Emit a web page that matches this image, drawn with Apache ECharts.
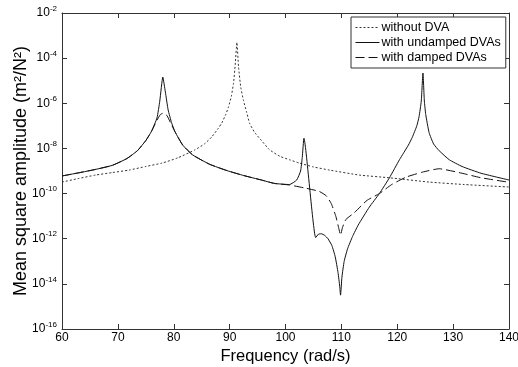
<!DOCTYPE html>
<html>
<head>
<meta charset="utf-8">
<script src="https://cdn.jsdelivr.net/npm/echarts@6/dist/echarts.min.js"></script>
<style>html,body{margin:0;padding:0;background:#fff}#c{width:518px;height:367px}</style>
</head>
<body>
<div id="c"></div>
<script>
// Frequency (rad/s) and log10 of mean square amplitude
var freqNoDVA = [60, 63, 66, 69, 72, 75, 77.9, 80.7, 83.75, 85.5, 86.8, 88.0, 88.6, 89.3, 89.8, 90.3, 90.7, 91.0, 91.3, 91.6, 92.0, 92.5, 93.0, 93.6, 94.5, 95.7, 97.1, 99, 100.7, 102.5, 105, 107.9, 113.2, 118.6, 125.7, 132, 140];
var logNoDVA  = [-9.49, -9.33, -9.18, -9.07, -8.96, -8.8, -8.65, -8.42, -8.07, -7.8, -7.49, -7.1, -6.87, -6.5, -6.16, -5.7, -5.1, -4.3, -3.3, -4.4, -5.3, -5.9, -6.35, -6.9, -7.3, -7.65, -8.05, -8.35, -8.5, -8.65, -8.82, -8.96, -9.18, -9.3, -9.49, -9.6, -9.71];

var freqUndamped = [60, 63, 66, 69, 71.6, 73.5, 75, 76, 77, 77.5, 78.04, 78.5, 79.0, 79.6, 80.2, 81.6, 83.4, 86.4, 89.5, 92.5, 95.7, 98, 100.7, 102, 102.7, 103.0, 103.3, 105.4, 105.9, 106.4, 107.0, 107.6, 108.3, 108.9, 109.4, 109.7, 109.85, 110.1, 110.5, 111.1, 112, 113, 115, 116.8, 118.6, 120.4, 122.0, 122.7, 123.5, 123.9, 124.3, 124.6, 124.85, 125.1, 125.7, 126.5, 127.5, 129.3, 131.6, 135, 140];
var logUndamped  = [-9.22, -9.08, -8.93, -8.75, -8.45, -8.1, -7.65, -7.25, -6.65, -5.9, -4.84, -5.5, -6.3, -6.85, -7.25, -7.85, -8.29, -8.7, -8.98, -9.2, -9.4, -9.55, -9.6, -9.4, -9.0, -8.4, -7.55, -11.95, -11.8, -11.78, -11.85, -12.0, -12.3, -12.8, -13.5, -14.1, -14.5, -13.7, -13.0, -12.45, -11.9, -11.4, -10.6, -10.0, -9.3, -8.5, -7.85, -7.5, -7.0, -6.6, -5.9, -4.66, -5.9, -6.5, -7.3, -7.8, -8.1, -8.5, -8.8, -9.1, -9.4];

var freqDamped = [60, 63, 66, 69, 71.6, 73.5, 75, 76, 77, 77.6, 78.2, 78.8, 79.4, 80.2, 81.6, 83.4, 86.4, 89.5, 92.5, 95.7, 98, 100.7, 103.4, 106, 107.3, 108.2, 109.0, 109.5, 109.85, 110.2, 110.8, 112.3, 114.6, 116.8, 119, 121.6, 124.5, 127.5, 131.6, 135, 140];
var logDamped  = [-9.22, -9.08, -8.93, -8.75, -8.45, -8.1, -7.65, -7.25, -6.75, -6.5, -6.43, -6.55, -6.85, -7.25, -7.85, -8.29, -8.7, -8.98, -9.2, -9.4, -9.55, -9.62, -9.75, -9.9, -10.1, -10.45, -11.0, -11.5, -11.84, -11.5, -11.15, -10.85, -10.3, -10.0, -9.6, -9.27, -9.05, -8.9, -9.1, -9.3, -9.5];

var seriesNames = ['without DVA', 'with undamped DVAs', 'with damped DVAs'];
var xTicks = [60, 70, 80, 90, 100, 110, 120, 130, 140];

function pairs(f, l) { return f.map(function (v, i) { return [v, Math.pow(10, l[i])]; }); }

var font = 'Liberation Sans, Arial, sans-serif';
var axisColor = '#333';
var chart = echarts.init(document.getElementById('c'));

function yLabel(v) {
  var e = Math.round(Math.log10(v));
  return '{b|10}{s|' + e + '}';
}

chart.setOption({
  animation: false,
  backgroundColor: '#fff',
  grid: { left: 62, right: 9, top: 13, bottom: 38, containLabel: false, outerBoundsMode: 'none' },
  legend: {
    left: 351, top: 17, orient: 'vertical',
    itemWidth: 24, itemHeight: 10, itemGap: 2,
    padding: [4, 5, 4, 4],
    borderColor: '#333', borderWidth: 1, backgroundColor: '#fff',
    itemStyle: { opacity: 0 },
    lineStyle: { width: 1 },
    textStyle: { fontFamily: font, fontSize: 12.5, color: '#000', padding: [0, 0, 0, -3] },
    data: seriesNames
  },
  xAxis: [{
    type: 'value', min: xTicks[0], max: xTicks[xTicks.length - 1], interval: 10,
    name: 'Frequency (rad/s)', nameLocation: 'middle', nameGap: 19, nameMoveOverlap: false,
    nameTextStyle: { fontFamily: font, fontSize: 16.5, color: '#000' },
    axisLine: { lineStyle: { color: axisColor, width: 1 } },
    axisTick: { inside: true, length: 5, lineStyle: { color: axisColor } },
    axisLabel: { fontFamily: font, fontSize: 12, color: '#000', margin: 3 },
    splitLine: { show: false }
  }, {
    type: 'value', position: 'top', min: xTicks[0], max: xTicks[xTicks.length - 1], interval: 10,
    axisLine: { show: true, lineStyle: { color: axisColor, width: 1 } },
    axisTick: { inside: true, length: 5, lineStyle: { color: axisColor } },
    axisLabel: { show: false }, splitLine: { show: false }
  }],
  yAxis: [{
    type: 'log', logBase: 10, min: 1e-16, max: 1e-2, interval: 2,
    name: 'Mean square amplitude (m²/N²)', nameLocation: 'middle', nameGap: 32, nameMoveOverlap: false,
    nameTextStyle: { fontFamily: font, fontSize: 18, color: '#000' },
    axisLine: { show: true, lineStyle: { color: axisColor, width: 1 } },
    axisTick: { inside: true, length: 5, lineStyle: { color: axisColor } },
    axisLabel: {
      margin: 5, formatter: yLabel,
      rich: {
        b: { fontFamily: font, fontSize: 12, color: '#000' },
        s: { fontFamily: font, fontSize: 8, color: '#000', padding: [0, 0, 9, 0] }
      }
    },
    splitLine: { show: false }
  }, {
    type: 'log', logBase: 10, min: 1e-16, max: 1e-2, interval: 2, position: 'right',
    axisLine: { show: true, lineStyle: { color: axisColor, width: 1 } },
    axisTick: { inside: true, length: 5, lineStyle: { color: axisColor } },
    axisLabel: { show: false }, splitLine: { show: false }
  }],
  series: [{
    name: seriesNames[0], type: 'line', symbol: 'none', smooth: 0.15, data: pairs(freqNoDVA, logNoDVA),
    lineStyle: { color: '#333', width: 1, type: [2, 2] }, itemStyle: { color: '#333' }
  }, {
    name: seriesNames[1], type: 'line', symbol: 'none', smooth: 0.15, data: pairs(freqUndamped, logUndamped),
    lineStyle: { color: '#111', width: 1, type: 'solid' }, itemStyle: { color: '#111' }
  }, {
    name: seriesNames[2], type: 'line', symbol: 'none', smooth: 0.15, data: pairs(freqDamped, logDamped),
    lineStyle: { color: '#111', width: 1, type: [9, 4] }, itemStyle: { color: '#111' }
  }]
});
</script>
</body>
</html>
